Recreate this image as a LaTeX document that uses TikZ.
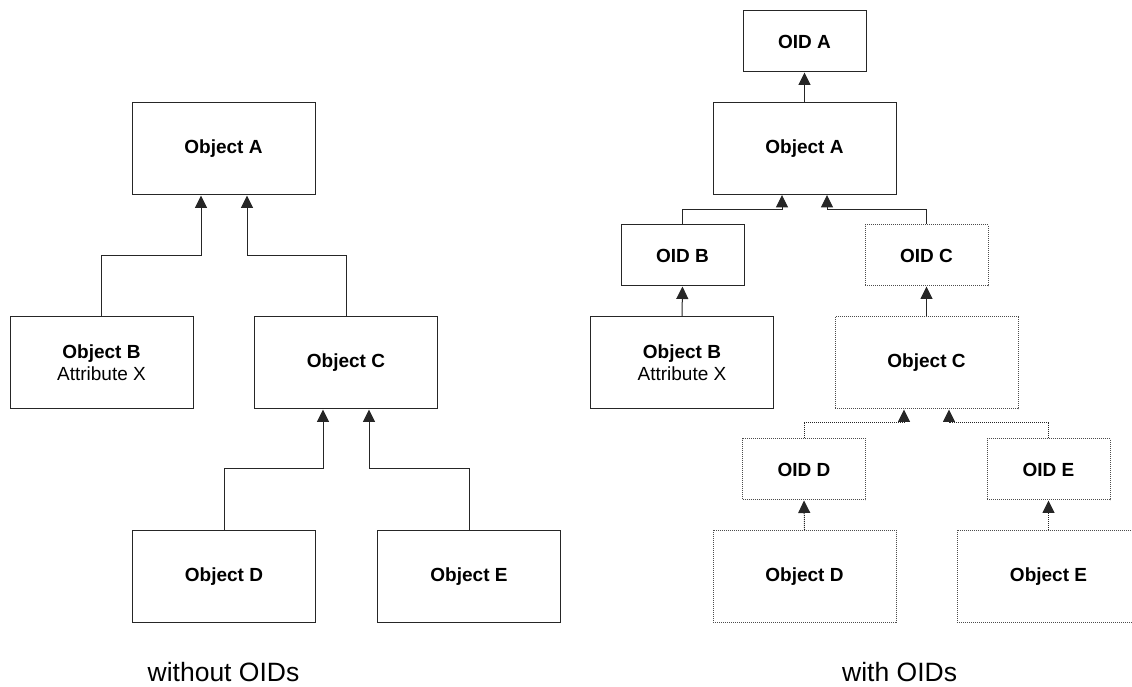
\documentclass[tikz,border=0pt]{standalone}
\usepackage{fontspec}
\setmainfont{Liberation Sans}
\usetikzlibrary{arrows.meta,calc}
\begin{document}
\begin{tikzpicture}[x=1pt,y=1pt,
  box/.style={draw=black!85, line width=1pt, minimum width=183pt, minimum height=92pt, inner sep=0pt, font=\fontsize{19}{22}\selectfont\bfseries, align=center},
  oid/.style={box, minimum width=123pt, minimum height=61pt},
  dotbox/.style={draw=black!70, dash pattern=on 1pt off 1pt},
  conn/.style={draw=black!85, line width=1pt, -{Triangle[length=12.5pt,width=12pt]}},
  dotconn/.style={conn, dash pattern=on 1pt off 1pt},
  caption/.style={font=\fontsize{26.5}{30}\selectfont, inner sep=0pt}]
\clip (0,0) rectangle (1132,687);
% left diagram
\node[box] (A1) at (223.5,538) {Object A};
\node[box] (B1) at (101.5,324) {Object B\\\mdseries Attribute X};
\node[box] (C1) at (346,324) {Object C};
\node[box] (D1) at (224,110.5) {Object D};
\node[box] (E1) at (469,110.5) {Object E};
\draw[conn] (B1.north) -- ++(0,61) -| ([xshift=-22.5pt]A1.south);
\draw[conn] (C1.north) -- ++(0,61) -| ([xshift=23.5pt]A1.south);
\draw[conn] (D1.north) -- ++(0,61) -| ([xshift=-23pt]C1.south);
\draw[conn] (E1.north) -- ++(0,61) -| ([xshift=23pt]C1.south);
\node[caption] (L1) at (223.5,15) {without OIDs};
% right diagram
\node[oid] (OA) at (804.5,645.5) {OID A};
\node[box] (A2) at (804.5,538.5) {Object A};
\node[oid] (OB) at (682.5,431.5) {OID B};
\node[oid, dotbox] (OC) at (926.5,431.5) {OID C};
\node[box] (B2) at (682,324) {Object B\\\mdseries Attribute X};
\node[box, dotbox] (C2) at (926.5,324) {Object C};
\node[oid, dotbox] (OD) at (804,217.5) {OID D};
\node[oid, dotbox] (OE) at (1048.5,217.5) {OID E};
\node[box, dotbox] (D2) at (804.5,110.5) {Object D};
\node[box, dotbox] (E2) at (1048.5,110.5) {Object E};
\draw[conn] (A2.north) -- (OA.south);
\draw[conn] (OB.north) -- ++(0,15) -| ([xshift=-22.5pt]A2.south);
\draw[conn] (OC.north) -- ++(0,15) -| ([xshift=22.5pt]A2.south);
\draw[conn] (B2.north) -- (OB.south);
\draw[conn] (C2.north) -- (OC.south);
\draw[dotconn] (OD.north) -- ++(0,16) -| ([xshift=-22.5pt]C2.south);
\draw[dotconn] (OE.north) -- ++(0,16) -| ([xshift=22.5pt]C2.south);
\draw[dotconn] (D2.north) -- (OD.south);
\draw[dotconn] (E2.north) -- (OE.south);
\node[caption, anchor=west] (L2) at (842,15) {with OIDs};
\end{tikzpicture}
\end{document}
